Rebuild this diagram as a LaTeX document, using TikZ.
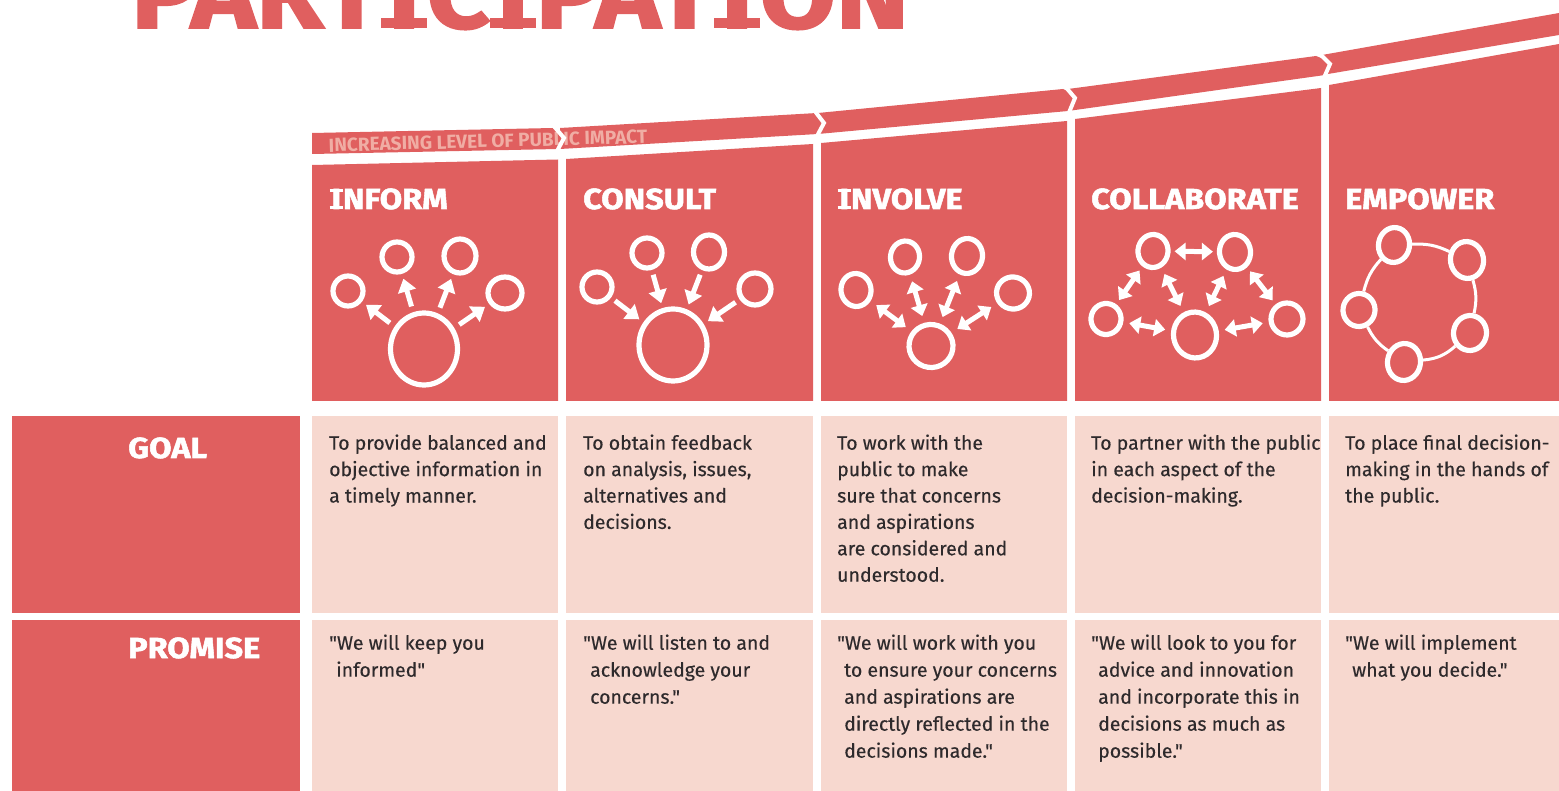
\documentclass[tikz,border=0pt]{standalone}
\usepackage{fontspec}
\usepackage{graphicx}
\usetikzlibrary{arrows.meta,shapes.geometric}
\setmainfont[Ligatures=TeXOff]{Fira Sans}
\newfontfamily\bodyfont[Ligatures=TeXOff,FakeBold=0.3]{Fira Sans}
\newfontfamily\hdrfont[FakeBold=1.8,FakeStretch=1.12]{Fira Sans Bold}
\newcommand\sI{\mbox{\rule{.46em}{.1em}\kern-.46em\raisebox{.6em}{\rule{.46em}{.1em}}\kern-.46em\hbox to .46em{\hss I\hss}}}
\definecolor{brick}{HTML}{E05F5F}
\definecolor{blush}{HTML}{F7D8CF}
\definecolor{inkc}{HTML}{2E2A2C}
\definecolor{bandtxt}{HTML}{F0ADA4}
\tikzset{
 panel/.style={fill=brick,draw=none},
 cell/.style={fill=blush,draw=none},
 head/.style={anchor=base west,inner sep=0,text=white,font=\hdrfont\fontsize{29}{29}\selectfont},
 body/.style={anchor=north west,inner sep=0,align=left,text=inkc,font=\bodyfont\fontsize{19.5}{26.4}\selectfont},
 pledge/.style={anchor=north west,inner sep=0,align=left,text=inkc,font=\bodyfont\fontsize{19.5}{27}\selectfont},
 ring/.style={ellipse,draw=white,line width=5.2pt,inner sep=0,fill=none},
 chev/.style={draw=white,line width=4pt,line join=miter},
 out/.style={draw=white,line width=5pt,-{Triangle[length=13pt,width=18pt]},shorten <=#1,shorten >=5pt},
 both/.style={draw=white,line width=5pt,{Triangle[length=11pt,width=17pt]}-{Triangle[length=11pt,width=17pt]},shorten <=#1,shorten >=#1},
 link/.style={draw=white,line width=3pt},
}
\begin{document}
\begin{tikzpicture}[x=1pt,y=-1pt]
\useasboundingbox (0,0) rectangle (1559,791);
\clip (0,0) rectangle (1559,791);
\node[anchor=base west,inner sep=0,text=brick] (title) at (131,28) {\resizebox{778pt}{!}{\hdrfont\fontsize{90}{90}\selectfont PART\sI C\sI PAT\sI ON}};
% band
\fill[panel] (312,133)--(553,128)--(567,138)--(558,149)--(312,154)--cycle;
\fill[panel] (560,128)--(817,113)--(826,123)--(818,134)--(560,149)--cycle;
\fill[panel] (818,113)--(1063,89)--(1081,98)--(1068,111)--(818,134)--cycle;
\fill[panel] (1068,89)--(1316,56)--(1336,64)--(1325,75)--(1068,111)--cycle;
\fill[panel] (1322,55)--(1559,13)--(1559,35)--(1322,75)--cycle;
\node[inner sep=0,text=bandtxt,rotate=1.6,font=\bfseries\fontsize{19}{19}\selectfont] (bandlabel) at (488,141) {INCREASING LEVEL OF PUBLIC IMPACT};
\draw[chev] (552,124)--(564,138)--(556,153);
\draw[chev] (814,110)--(824,123)--(816,138);
\draw[chev] (1064,85)--(1075,98)--(1068,115);
\draw[chev] (1318,52)--(1330,64)--(1323,80);
% header panels
\fill[panel] (312,165)--(558,159.5)--(558,401)--(312,401)--cycle;
\fill[panel] (566,159)--(813,144)--(813,401)--(566,401)--cycle;
\fill[panel] (821,143)--(1067,121)--(1067,401)--(821,401)--cycle;
\fill[panel] (1075,119)--(1321,88)--(1321,401)--(1075,401)--cycle;
\fill[panel] (1329,85)--(1559,44)--(1559,401)--(1329,401)--cycle;
\node[head] (h1) at (329.5,209) {\sI NFORM};
\node[head] (h2) at (583,209) {CONSULT};
\node[head] (h3) at (837.5,209) {\sI NVOLVE};
\node[head] (h4) at (1091,209) {COLLABORATE};
\node[head] (h5) at (1345,209) {EMPOWER};
% inform
\node[ring,minimum width=67pt,minimum height=72pt] (ic) at (424,349) {};
\node[ring,minimum width=30pt,minimum height=30pt] (ia) at (348,291) {};
\node[ring,minimum width=30pt,minimum height=30pt] (ib) at (397,257) {};
\node[ring,minimum width=32pt,minimum height=34pt] (id) at (460,256) {};
\node[ring,minimum width=34pt,minimum height=32pt] (ie) at (505,293) {};
\draw[out=6pt] (ic)--(ia);
\draw[out=6pt] (ic)--(ib);
\draw[out=6pt] (ic)--(id);
\draw[out=6pt] (ic)--(ie);
% consult
\node[ring,minimum width=68pt,minimum height=72pt] (cc) at (673,345) {};
\node[ring,minimum width=30pt,minimum height=30pt] (ca) at (597,287) {};
\node[ring,minimum width=30pt,minimum height=30pt] (cb) at (647,253) {};
\node[ring,minimum width=31pt,minimum height=34pt] (cd) at (709,252) {};
\node[ring,minimum width=32pt,minimum height=32pt] (ce) at (755,289) {};
\draw[out=5pt] (ca)--(cc);
\draw[out=5pt] (cb)--(cc);
\draw[out=5pt] (cd)--(cc);
\draw[out=5pt] (ce)--(cc);
% involve
\node[ring,rotate=-8,minimum width=44pt,minimum height=43pt] (vc) at (931,346) {};
\node[ring,rotate=8,minimum width=30pt,minimum height=33pt] (va) at (856,290) {};
\node[ring,rotate=-8,minimum width=29pt,minimum height=32pt] (vb) at (905,257) {};
\node[ring,rotate=-6,minimum width=31pt,minimum height=35pt] (vd) at (967,256) {};
\node[ring,rotate=-15,minimum width=33pt,minimum height=32pt] (ve) at (1013,293) {};
\draw[both=7pt] (vc)--(va);
\draw[both=7pt] (vc)--(vb);
\draw[both=7pt] (vc)--(vd);
\draw[both=7pt] (vc)--(ve);
% collaborate
\node[ring,rotate=10,minimum width=43pt,minimum height=46pt] (lc) at (1195,335) {};
\node[ring,rotate=-6,minimum width=30pt,minimum height=33pt] (la) at (1153,251) {};
\node[ring,rotate=6,minimum width=31pt,minimum height=35pt] (lb) at (1235,252) {};
\node[ring,rotate=-6,minimum width=30pt,minimum height=31pt] (ld) at (1106,319) {};
\node[ring,rotate=-10,minimum width=32pt,minimum height=32pt] (le) at (1287,319) {};
\draw[both=4pt] (la)--(lb);
\draw[both=5pt] (la)--(ld);
\draw[both=5pt] (lb)--(le);
\draw[both=6pt] (ld)--(lc);
\draw[both=6pt] (lc)--(le);
\draw[both=7pt] (lc)--(la);
\draw[both=7pt] (lc)--(lb);
% empower
\node[ring,rotate=-10,minimum width=31pt,minimum height=35pt] (ea) at (1394,245) {};
\node[ring,rotate=10,minimum width=33pt,minimum height=37pt] (eb) at (1467,260) {};
\node[ring,rotate=-8,minimum width=33pt,minimum height=35pt] (ed) at (1470,333) {};
\node[ring,rotate=-8,minimum width=33pt,minimum height=37pt] (ef) at (1404,362) {};
\node[ring,rotate=-8,minimum width=32pt,minimum height=33pt] (ec) at (1359,310) {};
\draw[link] (ea) to[bend left=14] (eb);
\draw[link] (eb) to[bend left=14] (ed);
\draw[link] (ed) to[bend left=18] (ef);
\draw[link] (ef) to[bend left=14] (ec);
\draw[link] (ec) to[bend left=14] (ea);
% rows
\fill[panel] (12,416) rectangle (300,613);
\fill[panel] (12,620) rectangle (300,791);
\node[head] (goal) at (128,458) {GOAL};
\node[head] (promise) at (128,658) {PROMISE};
\fill[cell] (312,416) rectangle (558,613);
\fill[cell] (566,416) rectangle (813,613);
\fill[cell] (821,416) rectangle (1067,613);
\fill[cell] (1075,416) rectangle (1321,613);
\fill[cell] (1329,416) rectangle (1559,613);
\fill[cell] (312,620) rectangle (558,791);
\fill[cell] (566,620) rectangle (813,791);
\fill[cell] (821,620) rectangle (1067,791);
\fill[cell] (1075,620) rectangle (1321,791);
\fill[cell] (1329,620) rectangle (1559,791);
\node[body] (g1) at (329,434.3) {To provide balanced and\\objective information in\\a timely manner.};
\node[body] (g2) at (583,434.3) {To obtain feedback\\on analysis, issues,\\alternatives and\\decisions.};
\node[body] (g3) at (837,434.3) {To work with the\\public to make\\sure that concerns\\and aspirations\\are considered and\\understood.};
\node[body] (g4) at (1091,434.3) {To partner with the public\\in each aspect of the\\decision-making.};
\node[body] (g5) at (1345,434.3) {To place final decision-\\making in the hands of\\the public.};
\node[pledge] (p1) at (329,634.3) {"We will keep you\\\hspace*{7pt}informed"};
\node[pledge] (p2) at (583,634.3) {"We will listen to and\\\hspace*{7pt}acknowledge your\\\hspace*{7pt}concerns."};
\node[pledge] (p3) at (837,634.3) {"We will work with you\\\hspace*{7pt}to ensure your concerns\\\hspace*{7pt}and aspirations are\\\hspace*{7pt}directly reflected in the\\\hspace*{7pt}decisions made."};
\node[pledge] (p4) at (1091,634.3) {"We will look to you for\\\hspace*{7pt}advice and innovation\\\hspace*{7pt}and incorporate this in\\\hspace*{7pt}decisions as much as\\\hspace*{7pt}possible."};
\node[pledge] (p5) at (1345,634.3) {"We will implement\\\hspace*{7pt}what you decide."};
\end{tikzpicture}
\end{document}
